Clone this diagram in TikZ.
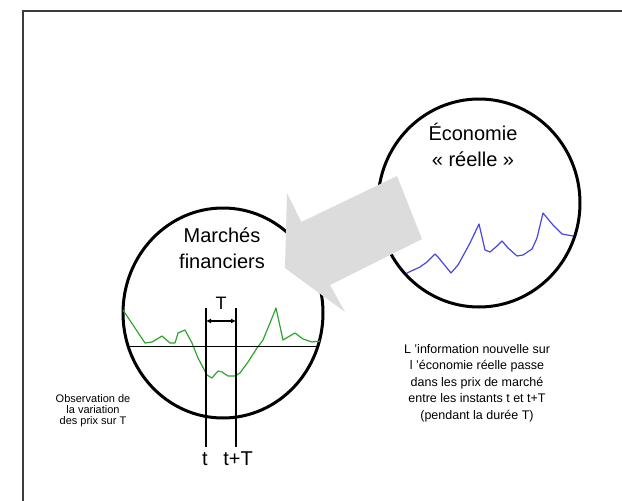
\documentclass[tikz,border=0pt]{standalone}
\usepackage{fontspec}
\setmainfont{Liberation Sans}
\usetikzlibrary{shapes.geometric,arrows.meta}
\definecolor{arrowgray}{RGB}{220,220,220}
\definecolor{curvegreen}{RGB}{45,165,45}
\definecolor{curveblue}{RGB}{70,70,225}
\definecolor{framegray}{RGB}{60,60,60}
\begin{document}
\begin{tikzpicture}[x=1pt,y=-1pt,
  bubble/.style={ellipse, draw, line width=3pt, inner sep=0pt},
  bigtext/.style={font=\fontsize{20}{26}\selectfont, align=center, inner sep=0pt},
  note/.style={align=center, inner sep=0pt},
  thinline/.style={line width=1pt},
  tick/.style={line width=1.3pt}]
\useasboundingbox (0,0) rectangle (622,501);
% frame
\draw[framegray, line width=2pt] (22.5,501) -- (22.5,10.5) -- (622,10.5);
% circles
\node[bubble, minimum width=200pt, minimum height=210pt] (fin) at (223,313) {};
\node[bubble, minimum width=202pt, minimum height=208pt] (eco) at (479,203) {};
% green price curve
\draw[curvegreen, line width=1.2pt, line join=round]
  (123,310) -- (145,343) -- (152,342) -- (162,336) -- (170,343) -- (175,343)
  -- (178,333) -- (185,330) -- (192,343) -- (198,358) -- (207,375) -- (212,378)
  -- (218,371) -- (222,372) -- (228,376) -- (235,376) -- (240,373) -- (248,362)
  -- (257,348) -- (263,340) -- (270,323) -- (276,308) -- (283,340) -- (288,337)
  -- (295,333) -- (303,339) -- (312,342) -- (320,341);
% blue economy curve
\draw[curveblue, line width=1.2pt, line join=round]
  (407,273) -- (420,267) -- (427,262) -- (435,254) -- (438,257) -- (451,273)
  -- (458,265) -- (470,243) -- (479,224) -- (485,250) -- (490,252) -- (497,246)
  -- (502,241) -- (508,248) -- (517,256) -- (523,255) -- (532,249) -- (537,238)
  -- (543,213) -- (553,225) -- (562,234) -- (573,236);
% horizontal reference line
\coordinate (hl) at (129,346);
\coordinate (hr) at (318,346);
\draw[thinline] (hl) -- (hr);
% time markers
\coordinate (t1top) at (206,308);
\coordinate (t2top) at (236,308);
\node[bigtext, anchor=north] (tlab) at (205,452) {t};
\node[bigtext, anchor=north] (ttlab) at (238,452) {t+T};
\draw[tick] (t1top) -- (206,447);
\draw[tick] (t2top) -- (236,447);
\coordinate (a1) at (206,321);
\coordinate (a2) at (236,321);
\draw[line width=1.6pt, {Latex[length=5pt,width=5pt]}-{Latex[length=5pt,width=5pt]}] (a1) -- (a2);
\node[font=\fontsize{18}{20}\selectfont, inner sep=0pt] (Tlab) at (221,303) {T};
% gray block arrow
\fill[arrowgray] (285,268) -- (287,193) -- (301.3,222) -- (397,176) -- (422,239)
  -- (330,285) -- (345,312) -- cycle;
% titles
\node[bigtext] (fintxt) at (222,248) {Marchés\\financiers};
\node[bigtext] (ecotxt) at (473,145) {Économie\\« réelle »};
% notes
\node[note, font=\fontsize{12.5}{16.5}\selectfont] (info) at (477,383)
  {L ’information nouvelle sur\\l ’économie réelle passe\\dans les prix de marché\\entre les instants t et t+T\\(pendant la durée T)};
\node[note, font=\fontsize{11}{11}\selectfont] (obs) at (93,411)
  {Observation de\\la variation\\des prix sur T};
\end{tikzpicture}
\end{document}
